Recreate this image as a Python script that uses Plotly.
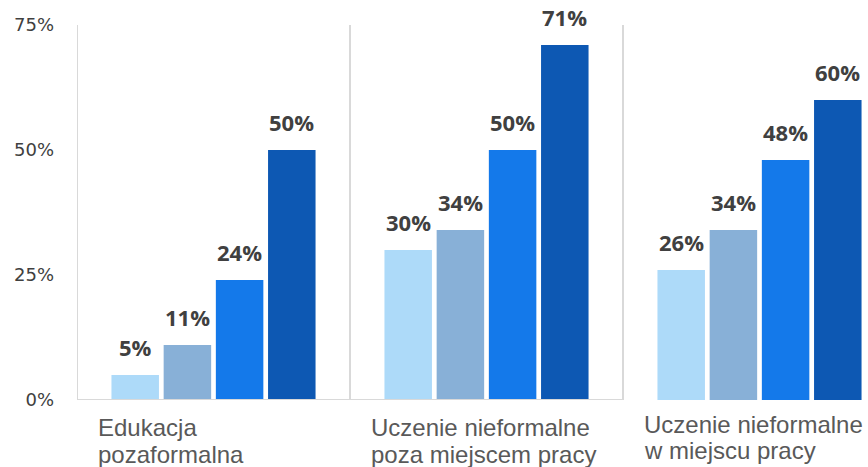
import plotly.graph_objects as go

category_lines = [
    ["Edukacja", "pozaformalna"],
    ["Uczenie nieformalne", "poza miejscem pracy"],
    ["Uczenie nieformalne", "w miejscu pracy"],
]
series_names = ["Seria 1", "Seria 2", "Seria 3", "Seria 4"]
series_values = [
    [5, 30, 26],
    [11, 34, 34],
    [24, 50, 48],
    [50, 71, 60],
]
colors = ["#ADDAF9", "#88B0D7", "#1479EA", "#0D58B3"]
y_ticks = [0, 25, 50, 75]
y_tick_labels = ["0%", "25%", "50%", "75%"]

group_px = 273.0
slot = 52.2 / group_px
width = 47.5 / group_px
xs = list(range(len(category_lines)))

fig = go.Figure()
annotations = []
for i, (name, vals, col) in enumerate(zip(series_names, series_values, colors)):
    off = (i - 2) * slot + (slot - width) / 2
    fig.add_trace(go.Bar(
        x=xs, y=vals, name=name, offset=off, width=width,
        marker=dict(color=col, line=dict(width=0)),
        hoverinfo="skip",
    ))
    for g, v in zip(xs, vals):
        annotations.append(dict(
            x=g + off + width / 2, y=v, xref="x", yref="y",
            text=f"<b>{v}%</b>", showarrow=False, yanchor="bottom",
            yshift=11, font=dict(family="Open Sans", size=22, color="#404040"),
        ))

label_yshifts = [[-12, -39], [-12, -39], [-9, -35]]
for g, (lines, shifts) in enumerate(zip(category_lines, label_yshifts)):
    for line, ys in zip(lines, shifts):
        annotations.append(dict(
            x=g - 0.5, y=0, xref="x", yref="paper", xanchor="left", yanchor="top",
            xshift=19, yshift=ys, align="left", text=line, showarrow=False,
            font=dict(family="Liberation Sans, Arial", size=24, color="#595959"),
        ))

shapes = [
    dict(type="line", xref="x", yref="y", x0=-0.5, x1=-0.5, y0=0, y1=75.4,
         line=dict(color="#D9D9D9", width=2)),
    dict(type="line", xref="x", yref="y", x0=0.5, x1=0.5, y0=0, y1=75.4,
         line=dict(color="#D9D9D9", width=2)),
    dict(type="line", xref="x", yref="y", x0=1.5, x1=1.5, y0=0, y1=75.4,
         line=dict(color="#D9D9D9", width=2)),
    dict(type="line", xref="x", yref="y", x0=-0.5, x1=1.5, y0=0, y1=0,
         line=dict(color="#D9D9D9", width=2)),
]

right_edge = -0.5 + (868 - 77) / group_px
fig.update_layout(
    width=868, height=467,
    margin=dict(l=77, r=0, t=25, b=67, autoexpand=False),
    paper_bgcolor="white", plot_bgcolor="white",
    barmode="overlay", showlegend=False,
    annotations=annotations, shapes=shapes,
    xaxis=dict(range=[-0.5, right_edge], showticklabels=False, showgrid=False,
               zeroline=False, showline=False, ticks="", automargin=False),
    yaxis=dict(range=[0, 75], tickvals=y_ticks, ticktext=y_tick_labels,
               showgrid=False, zeroline=False, showline=False, ticks="",
               ticklabelstandoff=22, automargin=False,
               tickfont=dict(family="DejaVu Sans", size=18, color="#404040")),
)

fig.write_html(
    "out.html",
    config={"displayModeBar": False},
    post_script="document.body.style.margin='0';document.body.style.overflow='hidden';",
)
